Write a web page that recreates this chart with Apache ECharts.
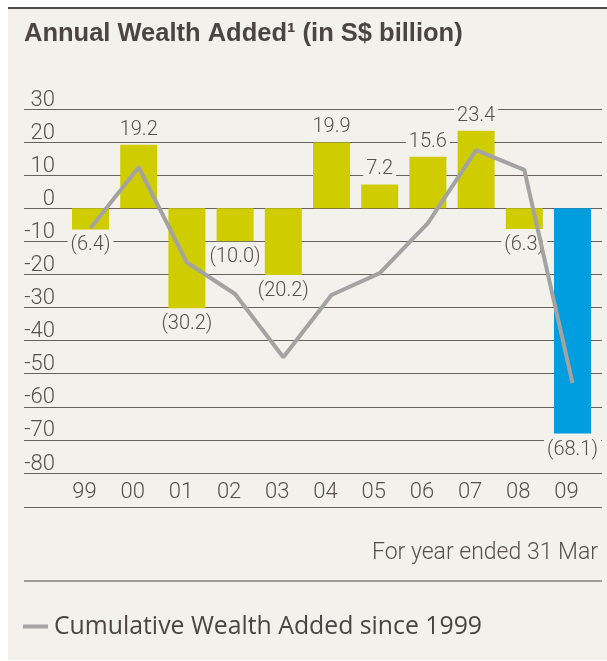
<!DOCTYPE html>
<html>
<head>
<meta charset="utf-8">
<script src="https://cdn.jsdelivr.net/npm/echarts@6/dist/echarts.min.js"></script>
<style>
  html, body { margin: 0; padding: 0; background: #fff; }
  #chart { width: 607px; height: 661px; }
</style>
</head>
<body>
<div id="chart"></div>
<script>
// data
const years = ['99', '00', '01', '02', '03', '04', '05', '06', '07', '08', '09']
const annualWealth = [-6.4, 19.2, -30.2, -10.0, -20.2, 19.9, 7.2, 15.6, 23.4, -6.3, -68.1]
const cumulativeWealth = [-6.0, 12.4, -16.4, -25.9, -45.0, -26.2, -19.6, -4.5, 17.6, 11.6, -52.8]
const yTicks = [-80, -70, -60, -50, -40, -30, -20, -10, 0, 10, 20, 30]

const bg = '#f2f1ec'
const txt = '#55504c'
const gridTop = 109
const gridH = 364

const chart = echarts.init(document.getElementById('chart'))

const option = {
  backgroundColor: '#fff',
  animation: false,
  textStyle: { fontFamily: 'Roboto, "Liberation Sans", sans-serif' },
  title: {
    text: 'Annual Wealth Added\u00b9 (in S$ billion)',
    left: 24,
    top: 21,
    padding: 0,
    textStyle: {
      fontFamily: '"Liberation Sans Narrow", "Liberation Sans", sans-serif',
      fontWeight: 'bold',
      fontSize: 25.5,
      color: '#4a4542'
    }
  },
  legend: {
    left: 23,
    top: 614,
    padding: 0,
    icon: 'rect',
    itemWidth: 25,
    itemHeight: 4,
    itemGap: 5,
    data: ['Cumulative Wealth Added since 1999'],
    textStyle: { fontFamily: '"Open Sans", Roboto, sans-serif', fontSize: 24.8, color: '#4a4542', padding: [0, 0, 0, 1] }
  },
  graphic: [
    { type: 'rect', z: -10, shape: { x: 8, y: 9, width: 599, height: 651 }, style: { fill: bg } },
    { type: 'rect', z: -9, shape: { x: 8, y: 7, width: 599, height: 2 }, style: { fill: '#4d4a47' } },
    { type: 'line', shape: { x1: 24, y1: 507.5, x2: 602, y2: 507.5 }, style: { stroke: '#66615d', lineWidth: 1.2 } },
    { type: 'line', shape: { x1: 24, y1: 581, x2: 602, y2: 581 }, style: { stroke: '#4d4a47', lineWidth: 1.2 } },
    {
      type: 'text', right: 9, top: 542,
      style: { text: 'For year ended 31 Mar', fontSize: 23, fontWeight: 300, fill: txt, fontFamily: 'Roboto' }
    }
  ],
  grid: [
    // wide grid that only carries the horizontal rules and their labels
    { left: 24, right: 5, top: gridTop, height: gridH },
    // narrower grid for the bars and the line
    { left: 66.4, right: 10.4, top: gridTop, height: gridH }
  ],
  xAxis: [
    { gridIndex: 0, type: 'category', data: years, show: false },
    {
      gridIndex: 1,
      type: 'category',
      data: years,
      axisLine: { show: false },
      axisTick: { show: false },
      axisLabel: {
        margin: 8,
        fontSize: 22,
        fontWeight: 300,
        color: txt,
        padding: [0, 12, 0, 0]
      }
    }
  ],
  yAxis: [
    {
      gridIndex: 0,
      type: 'value',
      min: yTicks[0],
      max: yTicks[yTicks.length - 1],
      interval: 10,
      axisLine: { show: false },
      axisTick: { show: false },
      splitLine: { lineStyle: { color: '#66615d', width: 1.2 } },
      axisLabel: {
        inside: true,
        align: 'right',
        verticalAlign: 'bottom',
        margin: 31,
        fontSize: 22,
        lineHeight: 22,
        fontWeight: 300,
        color: txt,
        padding: [0, 0, -2, 0]
      }
    },
    {
      gridIndex: 1,
      type: 'value',
      min: yTicks[0],
      max: yTicks[yTicks.length - 1],
      interval: 10,
      show: false,
      splitLine: { show: false }
    }
  ],
  series: [
    {
      name: 'Annual Wealth Added',
      type: 'bar',
      xAxisIndex: 1,
      yAxisIndex: 1,
      barWidth: 37,
      data: annualWealth.map(v => ({
        value: v,
        label: { position: v < 0 ? 'bottom' : 'top', distance: v < 0 ? 5 : 4 }
      })),
      itemStyle: {
        color: p => (p.dataIndex === annualWealth.length - 1 ? '#009ddf' : '#cfcc00')
      },
      label: {
        show: true,
        fontSize: 20,
        lineHeight: 20,
        fontWeight: 300,
        color: txt,
        backgroundColor: bg,
        padding: [1, 3],
        formatter: p => (p.value < 0 ? '(' + Math.abs(p.value).toFixed(1) + ')' : p.value.toFixed(1))
      }
    },
    {
      name: 'Cumulative Wealth Added since 1999',
      type: 'line',
      xAxisIndex: 1,
      yAxisIndex: 1,
      data: cumulativeWealth,
      symbol: 'none',
      z: 5,
      color: '#a3a3a3',
      lineStyle: { color: '#a3a3a3', width: 4 }
    }
  ]
}

chart.setOption(option)
</script>
</body>
</html>
